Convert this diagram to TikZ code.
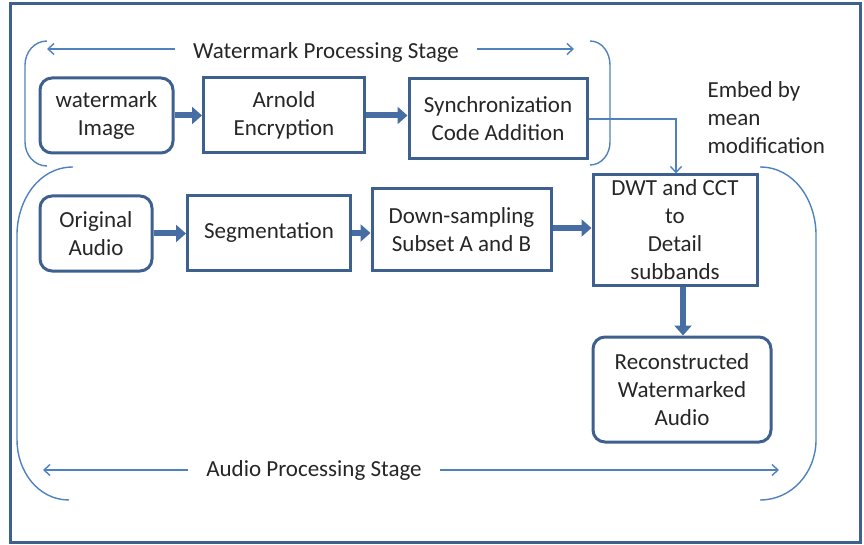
\documentclass[tikz,border=0pt]{standalone}
\usepackage{fontspec}
\setmainfont{Carlito}
\usetikzlibrary{arrows.meta}
\definecolor{boxc}{RGB}{62,96,142}
\definecolor{linec}{RGB}{79,129,189}
\definecolor{fatc}{RGB}{70,110,165}
\tikzset{
  x=1pt,y=-1pt,
  every node/.style={font=\fontsize{23}{28}\selectfont, text=black!85, align=center},
  sqbox/.style={draw=boxc, line width=3pt, inner sep=1pt},
  rdbox/.style={draw=boxc, line width=3pt, rounded corners=12pt, inner sep=1pt},
  fat/.style={draw=fatc, line width=6pt, -{Triangle[length=10pt,width=17pt]}},
  thin/.style={draw=linec, line width=1.4pt},
  thinarr/.style={thin, -{Straight Barb[length=6pt,width=11pt]}},
  stagelbl/.style={outer xsep=15pt},
}
\begin{document}
\begin{tikzpicture}
\useasboundingbox (0,0) rectangle (864,545);
\draw[boxc, line width=3pt] (10,4) rectangle (860,542);

% nodes
\node[rdbox, minimum width=133pt, minimum height=75pt] (wm) at (106.5,115.5) {watermark\\Image};
\node[sqbox, minimum width=161pt, minimum height=75pt] (ar) at (284,115.5) {Arnold\\Encryption};
\node[sqbox, minimum width=178pt, minimum height=80pt] (sy) at (498,119) {Synchronization\\Code Addition};
\node[rdbox, minimum width=112pt, minimum height=75pt] (oa) at (96,233.5) {Original\\Audio};
\node[sqbox, minimum width=163pt, minimum height=74pt] (sg) at (269,233) {Segmentation};
\node[sqbox, minimum width=179pt, minimum height=81pt] (ds) at (461.5,229.5) {Down-sampling\\Subset A and B};
\node[sqbox, minimum width=164pt, minimum height=110pt, inner sep=0pt] (dw) at (675,230) {DWT and CCT\\to\\Detail\\subbands};
\node[rdbox, minimum width=178pt, minimum height=105pt] (rc) at (682,389.5) {Reconstructed\\Watermarked\\Audio};

% thick arrows
\draw[fat] (wm.east) -- (ar.west);
\draw[fat] (ar.east) -- (sy.west|-ar.east);
\draw[fat] (oa.east) -- (sg.west|-oa.east);
\draw[fat] (sg.east) -- (ds.west|-sg.east);
\draw[fat] (ds.east|-0,228) -- (dw.west|-0,228);
\draw[fat] (dw.south-|683,0) -- (rc.north-|683,0);

% thin connector
\coordinate (bend) at (676,119);
\draw[thinarr] (sy.east) -- (bend) -- (dw.north-|676,0);

% stage labels
\node[stagelbl] (wst) at (326,52) {Watermark Processing Stage};
\coordinate (wl) at (47,49);
\coordinate (wr) at (574,49);
\draw[thinarr] (wst.west|-wl) -- (wl);
\draw[thinarr] (wst.east|-wr) -- (wr);

\node[stagelbl] (ast) at (314,470) {Audio Processing Stage};
\coordinate (al) at (43,470);
\coordinate (ar2) at (779,470);
\draw[thinarr] (ast.west|-al) -- (al);
\draw[thinarr] (ast.east|-ar2) -- (ar2);

\node[align=left, anchor=north west] (emb) at (704,78) {Embed by\\mean\\modification};

% brackets
\draw[thin] (47,41) to[out=180,in=90] (25,65) -- (25,142) to[out=-90,in=180] (47,166);
\draw[thin] (590,41) to[out=0,in=90] (610,65) -- (610,142) to[out=-90,in=0] (590,165);
\draw[thin] (73,167) to[out=180,in=90] (17,235) -- (17,440) to[out=-90,in=180] (69,500);
\draw[thin] (760,167) to[out=0,in=90] (816,235) -- (816,440) to[out=-90,in=0] (760,500);
\end{tikzpicture}
\end{document}
